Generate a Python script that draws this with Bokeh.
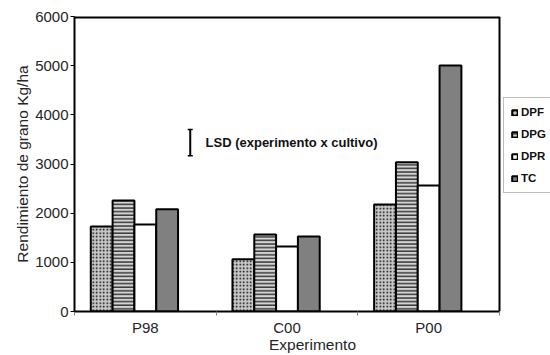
import numpy as np
from bokeh.plotting import figure
from bokeh.models import (Range1d, FixedTicker, ColumnDataSource, Legend, LegendItem,
                          Whisker, TeeHead, Label)
from bokeh.embed import file_html
from bokeh.resources import INLINE

# ---- data ----
experiments = ["P98", "C00", "P00"]
series = ["DPF", "DPG", "DPR", "TC"]
DPF = [1730, 1065, 2175]
DPG = [2260, 1565, 3035]
DPR = [1770, 1320, 2565]
TC = [2080, 1525, 5005]
y_ticks = [0, 1000, 2000, 3000, 4000, 5000, 6000]
y_max = 6000
lsd_value = 530
lsd_center = 3435
lsd_text = "LSD (experimento x cultivo)"

FONT = "Liberation Sans"
TXT = "#262626"

n_cat = len(experiments)
# frame extends past the last category so that the legend (outside the axes box) is drawn
x_end = n_cat * 476 / 425

p = figure(width=550, height=355, output_backend="svg", toolbar_location=None,
           x_range=Range1d(0, x_end), y_range=Range1d(0, y_max),
           min_border_left=74, min_border_right=0, min_border_top=16, min_border_bottom=44)
p.background_fill_color = "white"
p.border_fill_color = "white"
p.outline_line_color = None
p.xgrid.visible = False
p.ygrid.visible = False

# axes box (top and right edges)
p.segment(x0=[0, n_cat], y0=[y_max, 0], x1=[n_cat, n_cat], y1=[y_max, y_max],
          line_color="black", line_width=[4, 2])

centers = np.arange(n_cat) + 0.5
w = 0.154
offsets = [-2 * w, -w, 0.0, w]
vals = [DPF, DPG, DPR, TC]
styles = [
    dict(fill_color="#c8c8c8", hatch_pattern=".", hatch_color="black", hatch_scale=3.5, hatch_weight=1.2),
    dict(fill_color="#d4d4d4", hatch_pattern="-", hatch_color="black", hatch_scale=3.6, hatch_weight=1.1),
    dict(fill_color="white"),
    dict(fill_color="#808080"),
]
renderers = []
for name, v, off, st in zip(series, vals, offsets, styles):
    src = ColumnDataSource(dict(x=centers + off, top=v))
    r = p.vbar(x="x", top="top", width=w, bottom=0, source=src,
               line_color="black", line_width=2, **st)
    renderers.append((name, r))

# LSD whisker
wsrc = ColumnDataSource(dict(base=[0.817], lower=[lsd_center - lsd_value / 2],
                             upper=[lsd_center + lsd_value / 2]))
wk = Whisker(base="base", lower="lower", upper="upper", source=wsrc, dimension="height",
             line_color="black", line_width=2,
             upper_head=TeeHead(size=5, line_color="black", line_width=1.5),
             lower_head=TeeHead(size=5, line_color="black", line_width=1.5))
p.add_layout(wk)
p.add_layout(Label(x=0.925, y=lsd_center, text=lsd_text, text_font=FONT, text_font_size="13px",
                   text_font_style="bold", text_color="#111111", text_baseline="middle"))

# axes
p.yaxis.ticker = FixedTicker(ticks=y_ticks)
p.yaxis.axis_label = "Rendimiento de grano Kg/ha"
p.yaxis.axis_line_color = "black"
p.yaxis.axis_line_width = 2
p.yaxis.major_tick_line_color = "black"
p.yaxis.major_tick_in = 0
p.yaxis.major_tick_out = 4
p.yaxis.minor_tick_line_color = None
p.yaxis.major_label_standoff = 2
p.yaxis.axis_label_standoff = 1

p.xaxis.ticker = FixedTicker(ticks=list(centers), minor_ticks=list(range(n_cat + 1)))
p.xaxis.bounds = (0, n_cat)
p.xaxis.major_label_overrides = {float(c): e for c, e in zip(centers, experiments)}
p.xaxis.axis_label = "Experimento"
p.xaxis.axis_line_color = "black"
p.xaxis.axis_line_width = 2
p.xaxis.major_tick_line_color = None
p.xaxis.minor_tick_line_color = "#808080"
p.xaxis.minor_tick_in = 0
p.xaxis.minor_tick_out = 4
p.xaxis.major_label_standoff = 1
p.xaxis.axis_label_standoff = -3

for ax in (p.xaxis, p.yaxis):
    ax.major_label_text_font = FONT
    ax.major_label_text_font_size = "15px"
    ax.major_label_text_color = TXT
    ax.axis_label_text_font = FONT
    ax.axis_label_text_font_size = "15.5px"
    ax.axis_label_text_font_style = "normal"
    ax.axis_label_text_color = TXT

legend = Legend(items=[LegendItem(label=n, renderers=[r]) for n, r in renderers],
                orientation="vertical", location=(429, 118),
                label_text_font=FONT, label_text_font_size="11.5px", label_text_font_style="bold",
                label_text_color="#111111",
                glyph_width=7, glyph_height=7, label_height=14, label_standoff=3,
                spacing=8, padding=7, margin=0,
                border_line_color="#808080", border_line_width=1,
                background_fill_color="white", background_fill_alpha=1)
p.add_layout(legend, "center")

open("out.html", "w").write(file_html(p, INLINE))
